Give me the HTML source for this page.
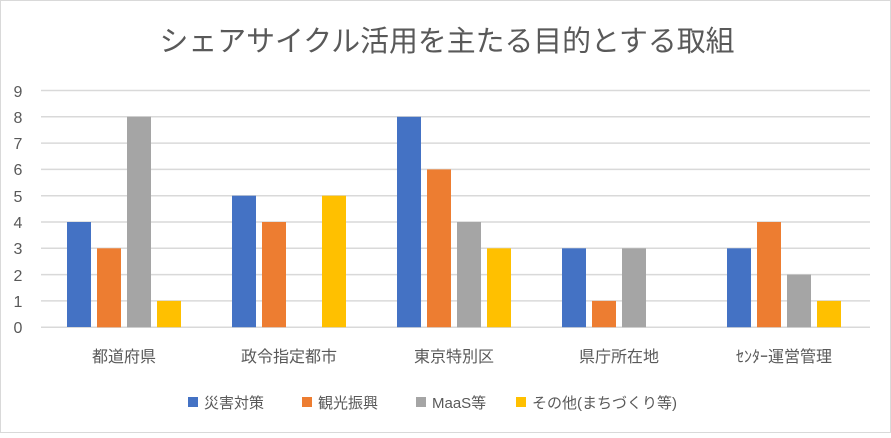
<!DOCTYPE html>
<html><head><meta charset="utf-8"><style>
body{margin:0;background:#fff}
text{font-family:"Liberation Sans","Noto Sans CJK JP",sans-serif}
</style></head><body>
<svg width="891" height="433" viewBox="0 0 891 433" xmlns="http://www.w3.org/2000/svg">
<rect x="0.5" y="0.5" width="890" height="432" fill="#fff" stroke="#d9d9d9"/>
<text x="447" y="51" text-anchor="middle" font-size="29" fill="#595959" textLength="575" lengthAdjust="spacingAndGlyphs">シェアサイクル活用を主たる目的とする取組</text>
<g stroke="#d9d9d9" stroke-width="1.5">
<line x1="41" x2="870" y1="90.5" y2="90.5"/><line x1="41" x2="870" y1="116.8" y2="116.8"/><line x1="41" x2="870" y1="143.1" y2="143.1"/><line x1="41" x2="870" y1="169.4" y2="169.4"/><line x1="41" x2="870" y1="195.7" y2="195.7"/><line x1="41" x2="870" y1="222" y2="222"/><line x1="41" x2="870" y1="248.3" y2="248.3"/><line x1="41" x2="870" y1="274.6" y2="274.6"/><line x1="41" x2="870" y1="300.9" y2="300.9"/><line x1="41" x2="870" y1="327.2" y2="327.2"/>
</g>
<g font-size="16" fill="#595959" text-anchor="middle">
<text x="18" y="333">0</text><text x="18" y="307">1</text><text x="18" y="281">2</text><text x="18" y="254">3</text><text x="18" y="228">4</text><text x="18" y="202">5</text><text x="18" y="175">6</text><text x="18" y="149">7</text><text x="18" y="123">8</text><text x="18" y="97">9</text>
</g>
<g>
<rect x="67" y="222" width="24" height="105" fill="#4472c4"/>
<rect x="97" y="248.3" width="24" height="79" fill="#ed7d31"/>
<rect x="127" y="116.8" width="24" height="210.4" fill="#a5a5a5"/>
<rect x="157" y="300.9" width="24" height="26.3" fill="#ffc000"/>
<rect x="232" y="195.7" width="24" height="131.5" fill="#4472c4"/>
<rect x="262" y="222" width="24" height="105.2" fill="#ed7d31"/>
<rect x="322" y="195.7" width="24" height="131.5" fill="#ffc000"/>
<rect x="397" y="116.8" width="24" height="210.4" fill="#4472c4"/>
<rect x="427" y="169.4" width="24" height="157.8" fill="#ed7d31"/>
<rect x="457" y="222" width="24" height="105.2" fill="#a5a5a5"/>
<rect x="487" y="248.3" width="24" height="78.9" fill="#ffc000"/>
<rect x="562" y="248.3" width="24" height="78.9" fill="#4472c4"/>
<rect x="592" y="300.9" width="24" height="26.3" fill="#ed7d31"/>
<rect x="622" y="248.3" width="24" height="78.9" fill="#a5a5a5"/>
<rect x="727" y="248.3" width="24" height="78.9" fill="#4472c4"/>
<rect x="757" y="222" width="24" height="105.2" fill="#ed7d31"/>
<rect x="787" y="274.6" width="24" height="52.6" fill="#a5a5a5"/>
<rect x="817" y="300.9" width="24" height="26.3" fill="#ffc000"/>
</g>
<g font-size="16" fill="#595959" text-anchor="middle">
<text x="124" y="362">都道府県</text>
<text x="289" y="362">政令指定都市</text>
<text x="454" y="362">東京特別区</text>
<text x="619" y="362">県庁所在地</text>
<text x="784" y="362">ｾﾝﾀｰ運営管理</text>
</g>
<g font-size="15" fill="#595959">
<rect x="188" y="397" width="10" height="10" fill="#4472c4"/><text x="204" y="408">災害対策</text>
<rect x="302" y="397" width="10" height="10" fill="#ed7d31"/><text x="318" y="408">観光振興</text>
<rect x="416" y="397" width="10" height="10" fill="#a5a5a5"/><text x="432" y="408">MaaS等</text>
<rect x="516" y="397" width="10" height="10" fill="#ffc000"/><text x="532" y="408">その他(まちづくり等)</text>
</g>
</svg>
</body></html>
